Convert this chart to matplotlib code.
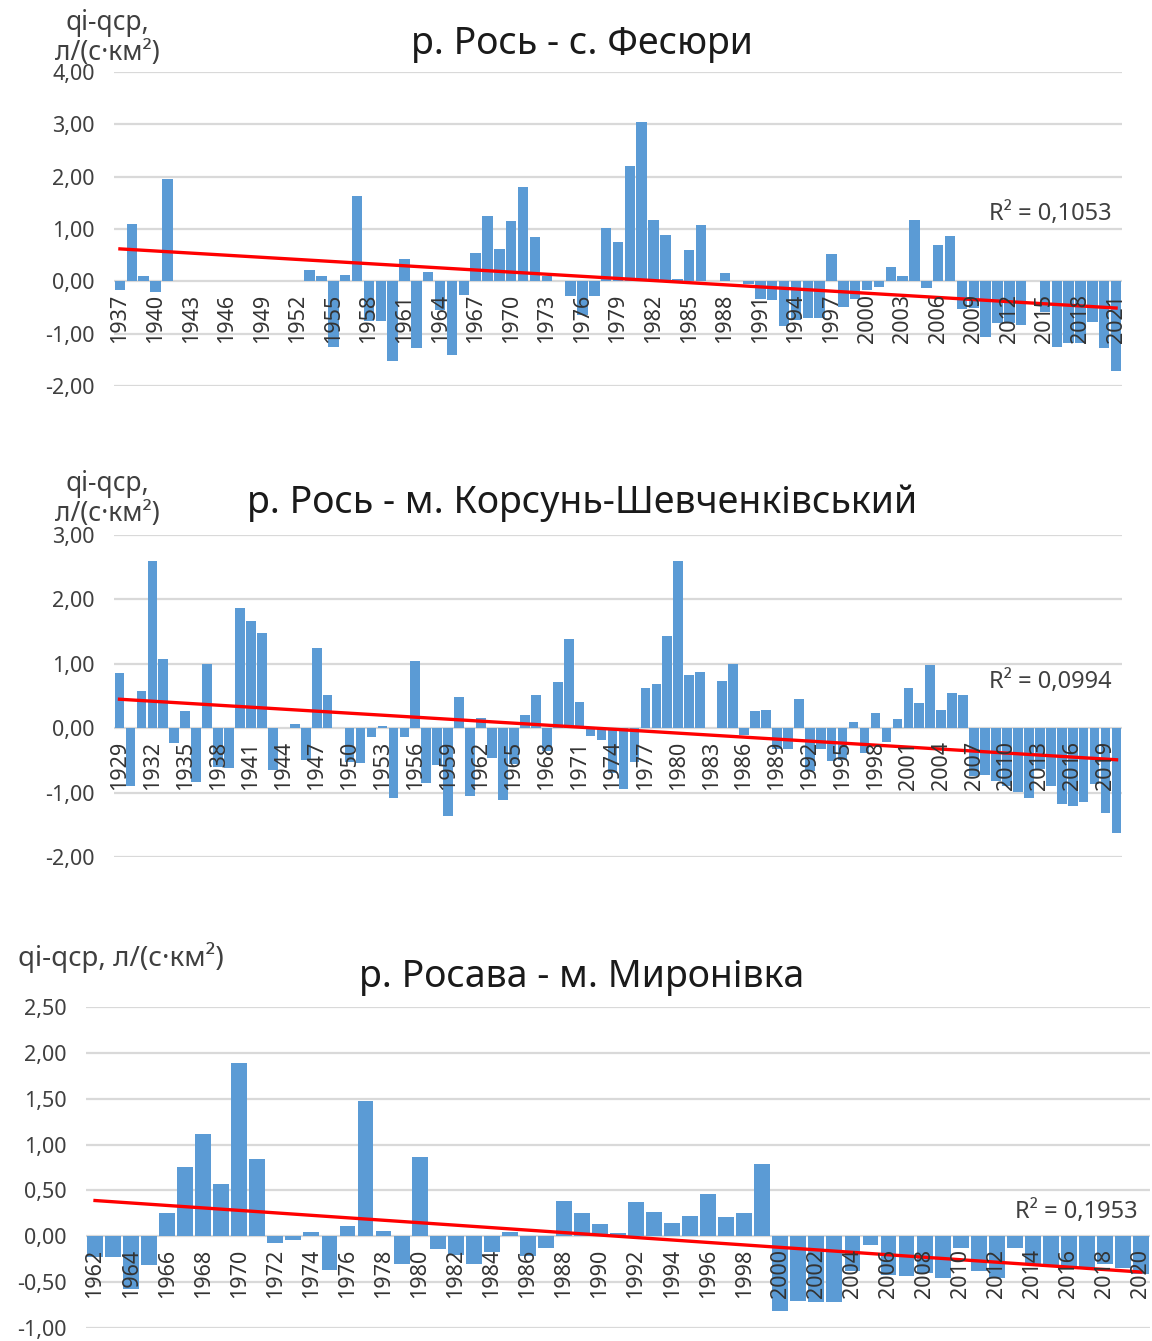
import numpy as np
import matplotlib.pyplot as plt

plt.rcParams['font.family'] = ['Noto Sans', 'DejaVu Sans']

nan = np.nan

# р. Рось - с. Фесюри, 1937-2021
years1 = np.arange(1937, 2022)
q1 = [-0.16, 1.10, 0.11, -0.20, 1.96,
      nan, nan, nan, nan, nan, nan, nan, nan, nan, nan, nan,
      0.22, 0.11, -1.25, 0.13, 1.64, -0.75, -0.75,
      -1.53, 0.43, -1.27, 0.18, -0.55, -1.40, -0.26, 0.55, 1.24, 0.62,
      1.15, 1.80, 0.85, 0.10, 0.01, -0.28, -0.65, -0.28, 1.01, 0.76,
      2.21, 3.04, 1.18, 0.89, 0.04, 0.59, 1.08, 0.00, 0.15, 0.00,
      -0.06, -0.33, -0.36, -0.85, -0.73, -0.71, -0.71, 0.52, -0.49, -0.34,
      -0.16, -0.11, 0.27, 0.10, 1.18, -0.12, 0.70, 0.87, -0.52, -0.50,
      -1.07, -0.79, -0.79, -0.83, nan, -0.58, -1.25, -1.18, -1.18, -0.78,
      -1.27, -1.71]
trend1 = [0.62, -0.51]

# р. Рось - м. Корсунь-Шевченківський, 1929-2020
years2 = np.arange(1929, 2021)
q2 = [0.86,
      -0.89, 0.57, 2.60, 1.08, -0.23, 0.26, -0.83, 0.99, -0.60, -0.62,
      1.86, 1.66, 1.48, -0.65, nan, 0.06, -0.50, 1.25, 0.52, nan,
      -0.53, -0.54, -0.14, 0.04, -1.09, -0.14, 1.04, -0.85, -0.57, -1.37,
      0.48, -1.05, 0.16, -0.47, -1.12, -0.55, 0.21, 0.51, -0.35, 0.71,
      1.38, 0.40, -0.12, -0.18, -0.70, -0.94, -0.52, 0.62, 0.68, 1.43,
      2.60, 0.82, 0.88, nan, 0.74, 1.00, -0.10, 0.27, 0.28, -0.33,
      -0.33, 0.46, -0.66, -0.33, -0.51, -0.50, 0.09, -0.38, 0.24, -0.21,
      0.14, 0.63, 0.39, 0.98, 0.28, 0.54, 0.52, -0.74, -0.72, -0.82,
      -0.90, -0.99, -1.08, -0.64, -0.90, -1.18, -1.21, -1.14, -0.86, -1.32,
      -1.63]
trend2 = [0.45, -0.49]

# р. Росава - м. Миронівка, 1962-2020
years3 = np.arange(1962, 2021)
q3 = [-0.23, -0.23, -0.58, -0.31, 0.25, 0.76, 1.11, 0.57,
      1.89, 0.84, -0.07, -0.04, 0.05, -0.37, 0.11, 1.48, 0.06, -0.30,
      0.86, -0.14, -0.20, -0.30, -0.17, 0.05, -0.22, -0.13, 0.39, 0.25,
      0.13, 0.04, 0.37, 0.27, 0.14, 0.22, 0.46, 0.21, 0.25, 0.79,
      -0.81, -0.71, -0.72, -0.72, -0.38, -0.10, -0.42, -0.43, -0.40, -0.46,
      -0.13, -0.38, -0.46, -0.13, -0.30, -0.32, -0.33, -0.35, -0.30, -0.35,
      -0.41]
trend3 = [0.39, -0.39]

BAR = '#5B9BD5'
GRID = '#D9D9D9'
TXT = '#404040'

W, H = 1152, 1341
fig = plt.figure(figsize=(W / 100, H / 100), dpi=100)


def px_axes(left, right, top, bottom):
    return fig.add_axes([left / W, 1 - bottom / H, (right - left) / W, (bottom - top) / H])


def draw_panel(ax, years, values, trend, yticks, step, r2, r2_xy, title, title_y, ylab, ylab_xy, ylab_ha, ylab_fs):
    vals = np.array(values, dtype=float)
    # x labels sit on the zero line, as in Excel
    ax.spines['bottom'].set_position(('data', 0))
    for s in ax.spines.values():
        s.set_visible(False)

    ax.bar(years, vals, width=0.88, color=BAR, zorder=2)
    ax.plot([years[0], years[-1]], trend, color='#FF0000', lw=2.4, zorder=3)

    ax.set_xlim(years[0] - 0.5, years[-1] + 0.5)
    ax.set_ylim(yticks[0], yticks[-1])
    ax.set_yticks(yticks)
    ax.set_yticklabels([f'{v:.2f}'.replace('.', ',') for v in yticks])
    ax.yaxis.grid(True, color=GRID, lw=1.6)
    ax.set_axisbelow(True)
    ax.xaxis.set_zorder(4)  # year labels drawn over the bars

    ticks = years[::step]
    ax.set_xticks(ticks)
    ax.set_xticklabels([str(y) for y in ticks])
    ax.tick_params(axis='x', length=0, pad=9, labelsize=15.5, labelcolor='#333333',
                   labelrotation=90)
    for lab in ax.get_xticklabels():
        lab.set_va('top')
        lab.set_ha('center')
    ax.tick_params(axis='y', length=0, pad=14, labelsize=15.5, labelcolor=TXT)

    fig.text(r2_xy[0] / W, 1 - r2_xy[1] / H, r2, ha='right', va='center',
             fontsize=17, color=TXT)
    fig.text(582 / W, 1 - title_y / H, title, ha='center', va='center',
             fontsize=27, color='#1a1a1a')
    fig.text(ylab_xy[0] / W, 1 - ylab_xy[1] / H, ylab, ha=ylab_ha, va='center',
             ma='center', fontsize=ylab_fs, color=TXT, linespacing=1.05)


ax1 = px_axes(114, 1122, 72, 386)
draw_panel(ax1, years1, q1, trend1, [-2, -1, 0, 1, 2, 3, 4], 3,
           'R² = 0,1053', (1112, 214), 'р. Рось - с. Фесюри', 44,
           'qi-qcp,\nл/(с·км²)', (107, 38), 'center', 19)

ax2 = px_axes(114, 1122, 535, 857)
draw_panel(ax2, years2, q2, trend2, [-2, -1, 0, 1, 2, 3], 3,
           'R² = 0,0994', (1112, 682), 'р. Рось - м. Корсунь-Шевченківський', 503,
           'qi-qcp,\nл/(с·км²)', (107, 499), 'center', 19)

ax3 = px_axes(86, 1150, 1007, 1328)
draw_panel(ax3, years3, q3, trend3, [-1, -0.5, 0, 0.5, 1, 1.5, 2, 2.5], 2,
           'R² = 0,1953', (1138, 1212), 'р. Росава - м. Миронівка', 977,
           'qi-qcp, л/(с·км²)', (18, 957), 'left', 20)

fig.savefig('out.png', dpi=100)
